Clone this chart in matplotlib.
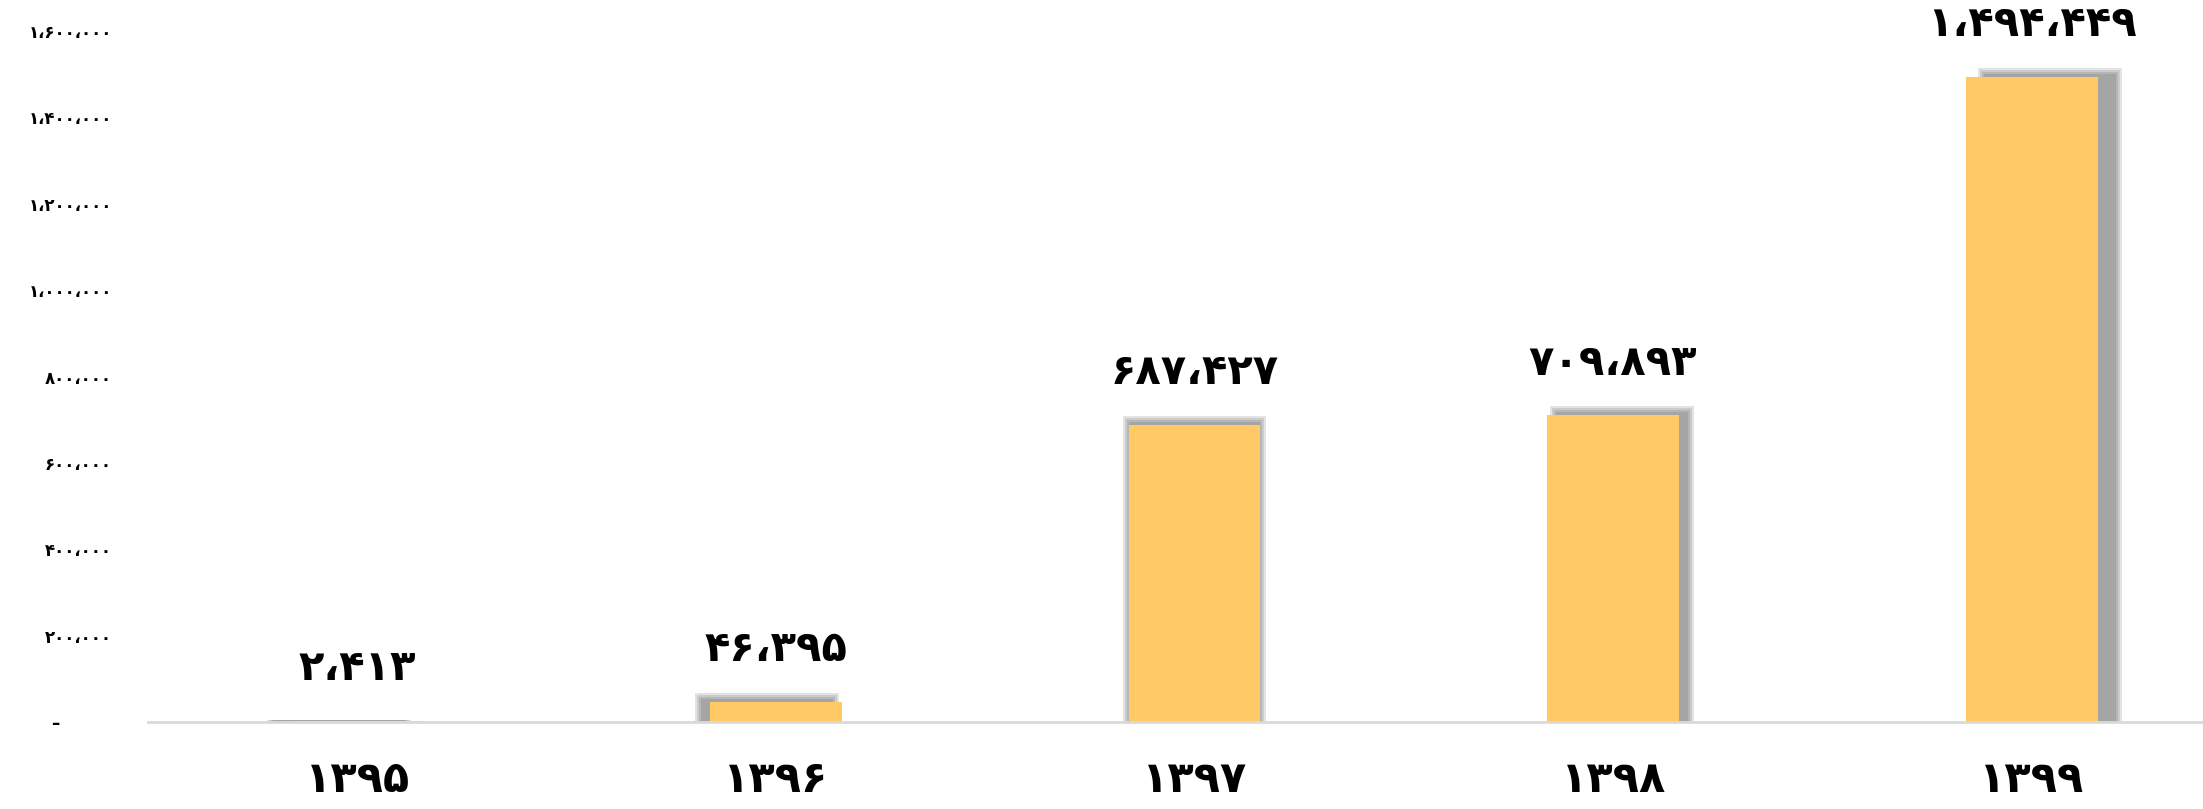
import matplotlib
matplotlib.use("Agg")
import matplotlib.pyplot as plt
from matplotlib.patches import Rectangle

# data
years = ["۱۳۹۵", "۱۳۹۶", "۱۳۹۷", "۱۳۹۸", "۱۳۹۹"]
values = [2413, 46395, 687427, 709893, 1494449]
yticks = [0, 200000, 400000, 600000, 800000, 1000000, 1200000, 1400000, 1600000]

FA_DIGITS = str.maketrans("0123456789", "۰۱۲۳۴۵۶۷۸۹")


def fa_num(v):
    if v == 0:
        return "–" + " " * 9
    return f"{v:,}".replace(",", "،").translate(FA_DIGITS)


plt.rcParams["font.family"] = ["DejaVu Sans"]

fig = plt.figure(figsize=(22.03, 8.09), dpi=100)
ax = fig.add_axes([148 / 2203, 87 / 809, 2093 / 2203, 691 / 809])
ax.set_xlim(-0.5, 4.5)
ax.set_ylim(0, 1600000)

x = list(range(len(years)))
w = 0.315

# pixel -> data units
px_x = 5 / 2093
px_y = 1600000 / 691

# soft shadow, shifted depending on bar position (like the excel shadow)
for i, v in enumerate(values):
    hpx = v / px_y
    dx = (i - 2) * 9
    for e in [6, 4, 2, 0]:
        top = min(e + 3, hpx)
        ax.add_patch(Rectangle((i - w / 2 + (dx - e) * px_x, 0),
                               w + 2 * e * px_x, v + top * px_y,
                               facecolor="#444444", edgecolor="none",
                               alpha=0.15, zorder=1))

ax.bar(x, values, width=w, color="#FFCA66", zorder=3)

for i, v in enumerate(values):
    ax.annotate(fa_num(v), (i, v), xytext=(0, 38), textcoords="offset points",
                ha="center", va="center", fontsize=30, fontweight="bold",
                color="black", zorder=5)

ax.set_xticks(x)
ax.set_xticklabels(years, fontsize=31, fontweight="bold")
ax.set_yticks(yticks)
ax.set_yticklabels([fa_num(t) for t in yticks], fontsize=12, fontweight="bold")
ax.tick_params(axis="x", length=0, pad=27)
ax.tick_params(axis="y", length=0, pad=26)

for s in ["top", "right", "left"]:
    ax.spines[s].set_visible(False)
ax.spines["bottom"].set_color("#D9D9D9")
ax.spines["bottom"].set_linewidth(2)
ax.spines["bottom"].set_zorder(6)

fig.savefig("out.png", dpi=100)
